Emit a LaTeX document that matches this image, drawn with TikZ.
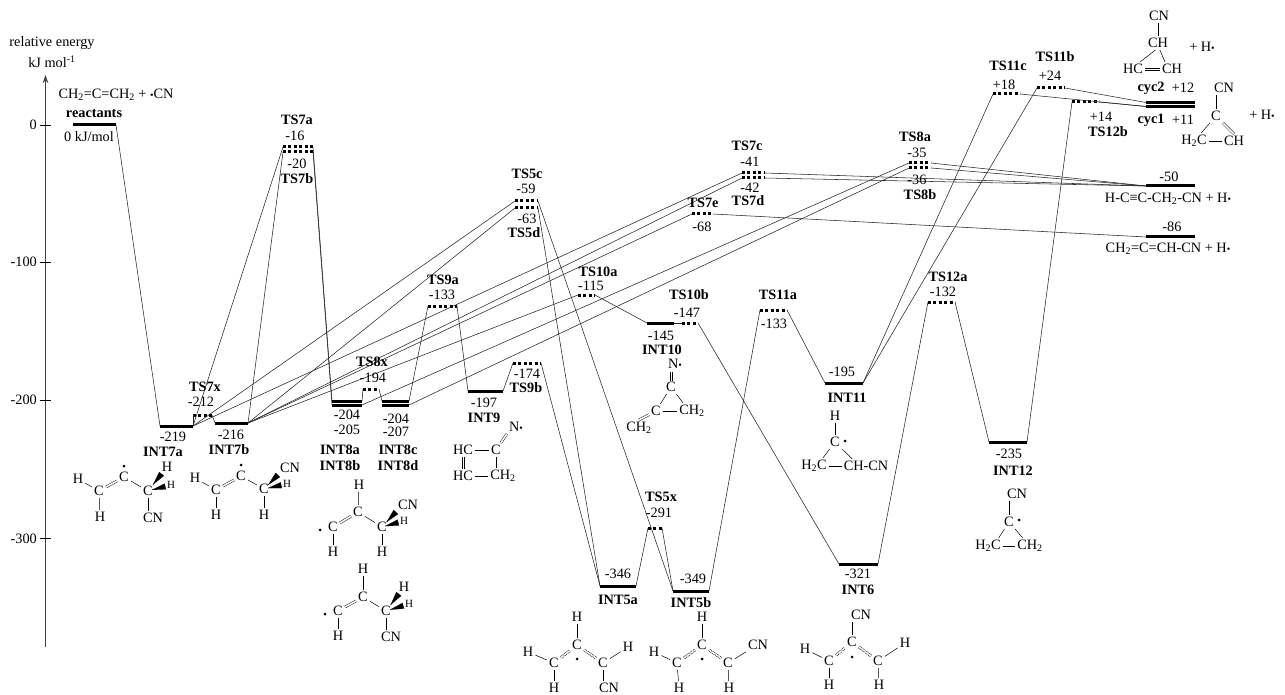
\documentclass[tikz,border=0pt]{standalone}
\usepackage{fontspec}
\setmainfont{Liberation Serif}
\usetikzlibrary{arrows.meta}
\newcommand{\smalldot}{{\fontsize{10}{10}\selectfont •}}
\tikzset{
  lvlbar/.style={rectangle,fill=black,minimum width=#1,minimum height=3pt,inner sep=0pt,outer sep=0pt,anchor=west},
  tsbar/.style={rectangle,minimum width=#1,minimum height=3pt,inner sep=0pt,outer sep=0pt,anchor=west,
    path picture={\draw[line width=3pt,dash pattern=on 3pt off 2.4pt] (path picture bounding box.west) -- (path picture bounding box.east);}},
  conn/.style={line width=0.55pt,black!85},
  axisline/.style={line width=1pt,black!75},
  bold/.style={font=\fontsize{14.3}{16}\selectfont\bfseries},
  atom/.style={inner sep=2pt},
  smallatom/.style={inner sep=1.5pt,font=\fontsize{11}{12}\selectfont},
  rad/.style={circle,fill=black,minimum size=3pt,inner sep=0pt},
  bond/.style={line width=0.5pt},
  dblbond/.style={double,double distance=1.6pt,line width=0.45pt},
  wedge/.style={line width=0.1pt,-{Triangle[reversed,length=14pt,width=6pt]}},
}
\begin{document}
\begin{tikzpicture}[x=1pt,y=-1pt,every node/.style={font=\fontsize{14.3}{16}\selectfont,inner sep=0pt}]
\useasboundingbox (0,0) rectangle (1285,695);

% energy axis
\coordinate (axisbot) at (45.5,647);
\coordinate (axistop) at (45.5,75);
\draw[axisline,-{Stealth[length=8pt,width=5.5pt]}] (axisbot) -- (axistop);
\coordinate (tick0) at (45.5,125);
\coordinate (tick100) at (45.5,262);
\coordinate (tick200) at (45.5,400);
\coordinate (tick300) at (45.5,538);
\draw[line width=0.8pt] (tick0) ++(-6,0) -- ++(11,0);
\draw[line width=0.8pt] (tick100) ++(-6,0) -- ++(11,0);
\draw[line width=0.8pt] (tick200) ++(-6,0) -- ++(11,0);
\draw[line width=0.8pt] (tick300) ++(-6,0) -- ++(11,0);
\node[anchor=east] (val0) at (37,125) {0};
\node[anchor=east] (val100) at (37,262) {-100};
\node[anchor=east] (val200) at (37,400) {-200};
\node[anchor=east] (val300) at (37,539) {-300};
\node (axisname) at (52,43) {relative energy};
\node (axisunit) at (52,62) {kJ mol\textsuperscript{-1}};

% levels
\node[lvlbar=43] (react) at (73,125) {};
\node[lvlbar=33] (int7a) at (160,426) {};
\node[lvlbar=33] (int7b) at (215,423) {};
\node[lvlbar=30] (int8a) at (332,401) {};
\node[lvlbar=30] (int8b) at (332,405) {};
\node[lvlbar=27] (int8c) at (382,401) {};
\node[lvlbar=27] (int8d) at (382,405) {};
\node[lvlbar=35] (int9) at (468,391) {};
\node[lvlbar=27] (int10) at (647,323) {};
\node[lvlbar=38] (int11) at (825,383) {};
\node[lvlbar=38] (int12) at (989,442) {};
\node[lvlbar=39] (int6) at (839,564) {};
\node[lvlbar=36] (int5a) at (600,586) {};
\node[lvlbar=36] (int5b) at (673,591) {};
\node[lvlbar=49] (cyc2) at (1146,102.5) {};
\node[lvlbar=49] (cyc1) at (1146,106.5) {};
\node[lvlbar=49] (prodb) at (1146,186) {};
\node[lvlbar=49] (prodc) at (1146,237) {};
\node[tsbar=30] (ts7a) at (283,147) {};
\node[tsbar=30] (ts7b) at (283,152) {};
\node[tsbar=19] (ts7x) at (193,415) {};
\node[tsbar=16,minimum height=6pt] (ts8x) at (363,389) {};
\node[tsbar=29] (ts9a) at (428,306) {};
\node[tsbar=28] (ts9b) at (513,363) {};
\node[tsbar=23] (ts5c) at (515,201) {};
\node[tsbar=23] (ts5d) at (515,208) {};
\node[tsbar=14] (ts5x) at (648,528) {};
\node[tsbar=23] (ts7c) at (742,173) {};
\node[tsbar=23] (ts7d) at (742,178) {};
\node[tsbar=21] (ts7e) at (692,214) {};
\node[tsbar=17] (ts10a) at (578,295) {};
\node[tsbar=16] (ts10b) at (682,323) {};
\node[tsbar=27] (ts11a) at (760,310) {};
\node[tsbar=27] (ts12a) at (928,302) {};
\node[tsbar=27] (ts11c) at (993,94) {};
\node[tsbar=28] (ts11b) at (1037,88) {};
\node[tsbar=27] (ts12b) at (1072,102) {};
\node[tsbar=22] (ts8a) at (909,163) {};
\node[tsbar=22] (ts8b) at (909,168) {};

% connectors
\draw[conn] (react.east) -- (int7a.west);
\draw[conn] (int7a.east) -- (ts7x.west);
\draw[conn] (ts7x.east) -- (int7b.west);
\draw[conn] (int7a.east) -- (ts7a.west);
\draw[conn] (int7b.east) -- (ts7b.west);
\draw[conn] (ts7a.east) -- (int8a.west);
\draw[conn] (ts7b.east) -- (int8b.west);
\draw[conn] (int7a.east) -- (ts5c.west);
\draw[conn] (int7b.east) -- (ts5d.west);
\draw[conn] (int7a.east) -- (ts7c.west);
\draw[conn] (int7b.east) -- (ts7d.west);
\draw[conn] (int7b.east) -- (ts7e.west);
\draw[conn] (int7b.east) -- (ts10a.west);
\draw[conn] (int8b.east) -- (ts8a.west);
\draw[conn] (int8d.east) -- (ts8b.west);
\draw[conn] (int8a.east) -- (ts8x.west);
\draw[conn] (ts8x.east) -- (int8c.west);
\draw[conn] (int8c.east) -- (ts9a.west);
\draw[conn] (ts9a.east) -- (int9.west);
\draw[conn] (int9.east) -- (ts9b.west);
\draw[conn] (ts9b.east) -- (int5a.west);
\draw[conn] (ts5d.east) -- (int5a.west);
\draw[conn] (ts5c.east) -- (int5b.west);
\draw[conn] (int5a.east) -- (ts5x.west);
\draw[conn] (ts5x.east) -- (int5b.west);
\draw[conn] (int5b.east) -- (ts11a.west);
\draw[conn] (ts10a.east) -- (int10.west);
\draw[conn] (int10.east) -- (ts10b.west);
\draw[conn] (ts10b.east) -- (int6.west);
\draw[conn] (int6.east) -- (ts12a.west);
\draw[conn] (ts12a.east) -- (int12.west);
\draw[conn] (int12.east) -- (ts12b.west);
\draw[conn] (ts11a.east) -- (int11.west);
\draw[conn] (int11.east) -- (ts11c.west);
\draw[conn] (int11.east) -- (ts11b.west);
\draw[conn] (ts11c.east) -- (cyc1.west);
\draw[conn] (ts11b.east) -- (cyc2.west);
\draw[conn] (ts12b.east) -- (cyc1.west);
\draw[conn] (ts7c.east) -- (prodb.west);
\draw[conn] (ts7d.east) -- (prodb.west);
\draw[conn] (ts8a.east) -- (prodb.west);
\draw[conn] (ts8b.east) -- (prodb.west);
\draw[conn] (ts7e.east) -- (prodc.west);

% level labels
\node (reactform) at (116,95) {CH\textsubscript{2}=C=CH\textsubscript{2} + \smalldot CN};
\node[bold] (reactname) at (94,114) {reactants};
\node (reactval) at (89,137) {0 kJ/mol};
\node[bold] (ts7aname) at (297,120) {TS7a};
\node (ts7aval) at (295,136) {-16};
\node (ts7bval) at (297,164) {-20};
\node[bold] (ts7bname) at (297,179) {TS7b};
\node[bold] (ts7xname) at (205,387) {TS7x};
\node (ts7xval) at (201,402) {-212};
\node (int7aval) at (173,437) {-219};
\node[bold] (int7aname) at (163,452) {INT7a};
\node (int7bval) at (231,435) {-216};
\node[bold] (int7bname) at (229,450) {INT7b};
\node[bold] (ts8xname) at (372,362) {TS8x};
\node (ts8xval) at (373,378) {-194};
\node (int8aval) at (347,415) {-204};
\node (int8bval) at (347,430) {-205};
\node[bold] (int8aname) at (340,450) {INT8a};
\node[bold] (int8bname) at (340,466) {INT8b};
\node (int8cval) at (396,419) {-204};
\node (int8dval) at (396,432) {-207};
\node[bold] (int8cname) at (398,450) {INT8c};
\node[bold] (int8dname) at (398,466) {INT8d};
\node[bold] (ts9aname) at (443,280) {TS9a};
\node (ts9aval) at (442,295) {-133};
\node (int9val) at (484,403) {-197};
\node[bold] (int9name) at (484,418) {INT9};
\node (ts9bval) at (527,374) {-174};
\node[bold] (ts9bname) at (526,388) {TS9b};
\node[bold] (ts5cname) at (527,174) {TS5c};
\node (ts5cval) at (526,189) {-59};
\node (ts5dval) at (527,219) {-63};
\node[bold] (ts5dname) at (524,233) {TS5d};
\node[bold] (ts7cname) at (747,146) {TS7c};
\node (ts7cval) at (750,162) {-41};
\node (ts7dval) at (750,188) {-42};
\node[bold] (ts7dname) at (748,201) {TS7d};
\node[bold] (ts7ename) at (703,203) {TS7e};
\node (ts7eval) at (702,227) {-68};
\node[bold] (ts10aname) at (598,272) {TS10a};
\node (ts10aval) at (591,286) {-115};
\node[bold] (ts10bname) at (689,295) {TS10b};
\node (ts10bval) at (687,313) {-147};
\node (int10val) at (661,336) {-145};
\node[bold] (int10name) at (662,350) {INT10};
\node[bold] (ts11aname) at (778,295) {TS11a};
\node (ts11aval) at (774,324) {-133};
\node (int11val) at (842,372) {-195};
\node[bold] (int11name) at (847,398) {INT11};
\node[bold] (ts12aname) at (948,277) {TS12a};
\node (ts12aval) at (943,292) {-132};
\node (int12val) at (1009,454) {-235};
\node[bold] (int12name) at (1013,471) {INT12};
\node (int6val) at (858,574) {-321};
\node[bold] (int6name) at (858,590) {INT6};
\node (int5aval) at (618,574) {-346};
\node[bold] (int5aname) at (618,600) {INT5a};
\node (int5bval) at (693,579) {-349};
\node[bold] (int5bname) at (691,603) {INT5b};
\node[bold] (ts5xname) at (661,497) {TS5x};
\node (ts5xval) at (659,513) {-291};
\node[bold] (ts8aname) at (915,137) {TS8a};
\node (ts8aval) at (917,153) {-35};
\node (ts8bval) at (917,180) {-36};
\node[bold] (ts8bname) at (920,195) {TS8b};
\node[bold] (ts11cname) at (1008,66) {TS11c};
\node (ts11cval) at (1004,85) {+18};
\node[bold] (ts11bname) at (1055,57) {TS11b};
\node (ts11bval) at (1050,76) {+24};
\node (ts12bval) at (1101,117) {+14};
\node[bold] (ts12bname) at (1108,132) {TS12b};
\node[bold] (cyc2name) at (1151,88) {cyc2};
\node (cyc2val) at (1183,88) {+12};
\node[bold] (cyc1name) at (1151,120) {cyc1};
\node (cyc1val) at (1183,120) {+11};
\node (prodbval) at (1169,177) {-50};
\node (prodbform) at (1168,199) {H-C≡C-CH\textsubscript{2}-CN + H\smalldot};
\node (prodcval) at (1172,227) {-86};
\node (prodcform) at (1168,249) {CH\textsubscript{2}=C=CH-CN + H\smalldot};

% INT7a structure
\node[atom] (a7H1) at (78,479) {H};
\node[atom] (a7C1) at (99,491) {C};
\node[atom] (a7H2) at (100,517) {H};
\node[atom] (a7C2) at (124,477) {C};
\node[rad] (a7rad) at (124,466) {};
\node[atom] (a7C3) at (148,491) {C};
\node[atom] (a7H3) at (167,467) {H};
\node[smallatom] (a7H4) at (171,485) {H};
\node[atom] (a7CN) at (153,518) {CN};
\draw[bond] (a7H1) -- (a7C1);
\draw[bond] (a7C1) -- (a7H2);
\draw[dblbond] (a7C1) -- (a7C2);
\draw[bond] (a7C2) -- (a7C3);
\draw[wedge] (a7C3) -- (a7H3);
\draw[wedge] (a7C3) -- (a7H4);
\draw[bond] (a7C3) -- (a7C3 |- a7CN.north);

% INT7b structure
\node[atom] (b7H1) at (195,478) {H};
\node[atom] (b7C1) at (216,490) {C};
\node[atom] (b7H2) at (216,515) {H};
\node[atom] (b7C2) at (241,476) {C};
\node[rad] (b7rad) at (241,465) {};
\node[atom] (b7C3) at (264,489) {C};
\node[atom] (b7CN) at (290,468) {CN};
\node[smallatom] (b7H3) at (287,484) {H};
\node[atom] (b7H4) at (264,515) {H};
\draw[bond] (b7H1) -- (b7C1);
\draw[bond] (b7C1) -- (b7H2);
\draw[dblbond] (b7C1) -- (b7C2);
\draw[bond] (b7C2) -- (b7C3);
\draw[wedge] (b7C3) -- (b7CN.south west);
\draw[wedge] (b7C3) -- (b7H3);
\draw[bond] (b7C3) -- (b7H4);

% INT8a structure
\node[atom] (a8H1) at (359,485) {H};
\node[atom] (a8C1) at (358,512) {C};
\node[atom] (a8C2) at (333,527) {C};
\node[rad] (a8rad) at (320,530) {};
\node[atom] (a8H2) at (333,552) {H};
\node[atom] (a8C3) at (382,527) {C};
\node[atom] (a8CN) at (408,505) {CN};
\node[smallatom] (a8H3) at (404,521) {H};
\node[atom] (a8H4) at (382,552) {H};
\draw[bond] (a8H1) -- (a8C1);
\draw[dblbond] (a8C2) -- (a8C1);
\draw[bond] (a8C2) -- (a8H2);
\draw[bond] (a8C1) -- (a8C3);
\draw[wedge] (a8C3) -- (a8CN.south west);
\draw[wedge] (a8C3) -- (a8H3);
\draw[bond] (a8C3) -- (a8H4);

% INT8c structure
\node[atom] (c8H1) at (363,569) {H};
\node[atom] (c8C1) at (363,597) {C};
\node[atom] (c8C2) at (338,611) {C};
\node[rad] (c8rad) at (325,614) {};
\node[atom] (c8H2) at (338,636) {H};
\node[atom] (c8C3) at (386,611) {C};
\node[atom] (c8H3) at (404,587) {H};
\node[smallatom] (c8H4) at (409,604) {H};
\node[atom] (c8CN) at (391,637) {CN};
\draw[bond] (c8H1) -- (c8C1);
\draw[dblbond] (c8C2) -- (c8C1);
\draw[bond] (c8C2) -- (c8H2);
\draw[bond] (c8C1) -- (c8C3);
\draw[wedge] (c8C3) -- (c8H3);
\draw[wedge] (c8C3) -- (c8H4);
\draw[bond] (c8C3) -- (c8C3 |- c8CN.north);

% INT9 structure
\node[atom] (n9N) at (516,427) {N\smalldot};
\node[atom] (n9C1) at (496,450) {C};
\node[atom] (n9C2) at (463,450) {HC};
\node[atom] (n9C3) at (463,476) {HC};
\node[atom] (n9C4) at (503,476) {CH\textsubscript{2}};
\draw[dblbond] (n9C1) -- (n9N.south west);
\draw[bond] (n9C1) -- (n9C2);
\draw[bond] ([xshift=-1pt]n9C2.south) -- ([xshift=-1pt]n9C3.north);
\draw[bond] ([xshift=1pt]n9C2.south) -- ([xshift=1pt]n9C3.north);
\draw[bond] (n9C3) -- (n9C4);
\draw[bond] (n9C1) -- (n9C1 |- n9C4.north);

% INT10 structure
\node[atom] (n10N) at (675,364) {N\smalldot};
\node[atom] (n10C1) at (671,387) {C};
\node[atom] (n10C2) at (656,411) {C};
\node[atom] (n10C3) at (692,411) {CH\textsubscript{2}};
\node[atom] (n10C4) at (639,428) {CH\textsubscript{2}};
\draw[bond] (n10C1.north) ++(-1,1) -- ++(0,-9);
\draw[bond] (n10C1.north) ++(1,1) -- ++(0,-9);
\draw[bond] (n10C1) -- (n10C2);
\draw[bond] (n10C1) -- (n10C3.138);
\draw[bond] (n10C2) -- (n10C3);
\draw[dblbond] (n10C2) -- (n10C4.north);

% INT11 structure
\node[atom] (n11H) at (835,416) {H};
\node[atom] (n11C1) at (835,442) {C};
\node[rad] (n11rad) at (845,441) {};
\node[atom] (n11C2) at (814,466) {H\textsubscript{2}C};
\node[atom] (n11C3) at (866,466) {CH-CN};
\draw[bond] (n11H) -- (n11C1);
\draw[bond] (n11C1) -- (n11C2.42);
\draw[bond] (n11C1) -- (n11C3.153);
\draw[bond] (n11C2) -- (n11C3);

% INT12 structure
\node[atom] (n12CN) at (1017,494) {CN};
\node[atom] (n12C1) at (1009,522) {C};
\node[rad] (n12rad) at (1019,520) {};
\node[atom] (n12C2) at (988,546) {H\textsubscript{2}C};
\node[atom] (n12C3) at (1030,546) {CH\textsubscript{2}};
\draw[bond] (n12C1) -- (n12C1 |- n12CN.south);
\draw[bond] (n12C1) -- (n12C2.37);
\draw[bond] (n12C1) -- (n12C3.132);
\draw[bond] (n12C2) -- (n12C3);

% INT5a structure
\node[atom] (a5H1) at (577,617) {H};
\node[atom] (a5C1) at (577,645) {C};
\node[rad] (a5rad) at (577,659) {};
\node[atom] (a5C2) at (554,663) {C};
\node[atom] (a5H2) at (528,652) {H};
\node[atom] (a5H3) at (554,688) {H};
\node[atom] (a5C3) at (603,663) {C};
\node[atom] (a5H4) at (628,647) {H};
\node[atom] (a5CN) at (609,688) {CN};
\draw[bond] (a5H1) -- (a5C1);
\draw[dblbond,dash pattern=on 3pt off 1pt] (a5C2) -- (a5C1);
\draw[dblbond,dash pattern=on 3pt off 1pt] (a5C1) -- (a5C3);
\draw[bond] (a5H2) -- (a5C2);
\draw[bond] (a5C2) -- (a5H3);
\draw[bond] (a5C3) -- (a5H4);
\draw[bond] (a5C3) -- (a5C3 |- a5CN.north);

% INT5b structure
\node[atom] (b5H1) at (702,617) {H};
\node[atom] (b5C1) at (702,645) {C};
\node[rad] (b5rad) at (702,659) {};
\node[atom] (b5C2) at (677,663) {C};
\node[atom] (b5H2) at (654,652) {H};
\node[atom] (b5H3) at (679,688) {H};
\node[atom] (b5C3) at (728,663) {C};
\node[atom] (b5CN) at (758,645) {CN};
\node[atom] (b5H4) at (729,688) {H};
\draw[bond] (b5H1) -- (b5C1);
\draw[dblbond,dash pattern=on 3pt off 1pt] (b5C2) -- (b5C1);
\draw[dblbond,dash pattern=on 3pt off 1pt] (b5C1) -- (b5C3);
\draw[bond] (b5H2) -- (b5C2);
\draw[bond] (b5C2) -- (b5H3);
\draw[bond] (b5C3) -- (b5CN.south west);
\draw[bond] (b5C3) -- (b5H4);

% INT6 structure
\node[atom] (n6CN) at (861,615) {CN};
\node[atom] (n6C1) at (852,642) {C};
\node[rad] (n6rad) at (852,657) {};
\node[atom] (n6C2) at (829,661) {C};
\node[atom] (n6H1) at (805,649) {H};
\node[atom] (n6H2) at (829,685) {H};
\node[atom] (n6C3) at (878,661) {C};
\node[atom] (n6H3) at (905,643) {H};
\node[atom] (n6H4) at (879,685) {H};
\draw[bond] (n6C1) -- (n6C1 |- n6CN.south);
\draw[dblbond,dash pattern=on 3pt off 1pt] (n6C2) -- (n6C1);
\draw[dblbond,dash pattern=on 3pt off 1pt] (n6C1) -- (n6C3);
\draw[bond] (n6H1) -- (n6C2);
\draw[bond] (n6C2) -- (n6H2);
\draw[bond] (n6C3) -- (n6H3);
\draw[bond] (n6C3) -- (n6H4);

% cyc2 structure
\node[atom] (c2CN) at (1159,16) {CN};
\node[atom] (c2C1) at (1158,43) {CH};
\node[atom] (c2C2) at (1133,69) {HC};
\node[atom] (c2C3) at (1172,69) {CH};
\node (c2plus) at (1202,47) {+ H\smalldot};
\draw[bond] (c2C1) -- (c2C1 |- c2CN.south);
\draw[bond] (c2C1.-110) -- (c2C2.45);
\draw[bond] (c2C1.-75) -- (c2C3.135);
\draw[bond] ([yshift=1pt]c2C2.east) -- ([yshift=1pt]c2C3.west);
\draw[bond] ([yshift=-1pt]c2C2.east) -- ([yshift=-1pt]c2C3.west);

% cyc1 structure
\node[atom] (c1CN) at (1224,88) {CN};
\node[atom] (c1C1) at (1216,116) {C};
\node[atom] (c1C2) at (1194,141) {H\textsubscript{2}C};
\node[atom] (c1C3) at (1234,141) {CH};
\node (c1plus) at (1262,115) {+ H\smalldot};
\draw[bond] (c1C1) -- (c1C1 |- c1CN.south);
\draw[bond] (c1C1) -- (c1C2.48);
\draw[dblbond] (c1C1) -- (c1C3.north);
\draw[bond] (c1C2) -- (c1C3);
\end{tikzpicture}
\end{document}
